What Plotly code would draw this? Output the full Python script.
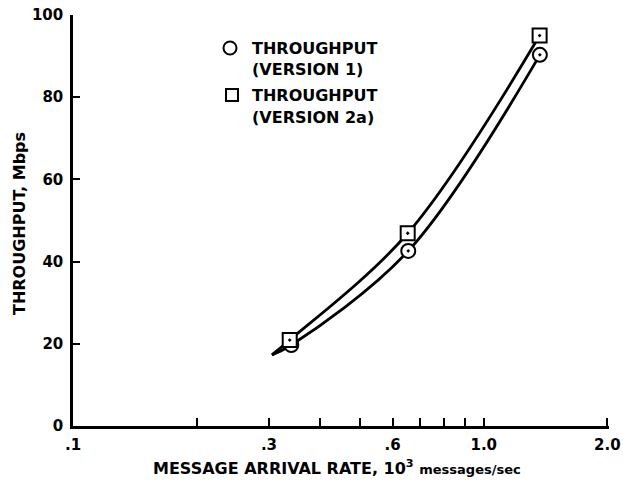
import math
import plotly.graph_objects as go

# Measured throughput (Mbps) vs message arrival rate (10^3 messages/sec)
rate_v1 = [0.34, 0.655, 1.37]
thr_v1 = [19.7, 42.6, 90.3]
rate_v2 = [0.337, 0.653, 1.368]
thr_v2 = [20.9, 46.9, 95.0]

# Lower end of the fitted curves (both curves start from the same point)
fit_start_rate = 0.305
fit_start_thr = 17.3

x_tick_vals = [0.1, 0.2, 0.3, 0.4, 0.5, 0.6, 0.7, 0.8, 0.9, 1.0, 2.0]
x_tick_text = [".1", " ", ".3", " ", " ", ".6", " ", " ", " ", "1.0", "2.0"]
y_tick_vals = [0, 20, 40, 60, 80, 100]

FONT = "DejaVu Sans"
INK = "black"

fig = go.Figure()

# Fitted curves
for rx, ty in ((rate_v1, thr_v1), (rate_v2, thr_v2)):
    fig.add_trace(go.Scatter(
        x=[fit_start_rate] + rx, y=[fit_start_thr] + ty,
        mode="lines", line=dict(color=INK, width=2.8, shape="spline", smoothing=1.0),
        hoverinfo="skip", showlegend=False,
    ))

# Data points
fig.add_trace(go.Scatter(
    x=rate_v1, y=thr_v1, mode="markers", name="THROUGHPUT (VERSION 1)",
    marker=dict(symbol="circle-dot", size=14, color="white",
                line=dict(color=INK, width=2)),
    showlegend=False,
))
fig.add_trace(go.Scatter(
    x=rate_v2, y=thr_v2, mode="markers", name="THROUGHPUT (VERSION 2a)",
    marker=dict(symbol="square-dot", size=14, color="white",
                line=dict(color=INK, width=2)),
    showlegend=False,
))

# Plot area in pixels
L, R, T, B = 73, 14, 15, 56
W, H = 623, 482
pw, ph = W - L - R, H - T - B


def px(x):
    return (x - L) / pw


def py(y):
    return (H - B - y) / ph


shapes = [
    dict(type="circle", xref="paper", yref="paper", xsizemode="pixel", ysizemode="pixel",
         xanchor=px(230), yanchor=py(48), x0=-6.5, x1=6.5, y0=-6.5, y1=6.5,
         line=dict(color=INK, width=2)),
    dict(type="rect", xref="paper", yref="paper", xsizemode="pixel", ysizemode="pixel",
         xanchor=px(232), yanchor=py(95), x0=-6, x1=6, y0=-6, y1=6,
         line=dict(color=INK, width=2)),
]

legend_font = dict(family=FONT, size=16, color=INK, weight="bold")
annotations = []
for text, ypix in (("THROUGHPUT", 48), ("(VERSION 1)", 70),
                   ("THROUGHPUT", 95), ("(VERSION 2a)", 117)):
    annotations.append(dict(
        text=text, xref="paper", yref="paper", x=px(250), y=py(ypix),
        xanchor="left", yanchor="middle", showarrow=False, font=legend_font,
    ))

annotations.append(dict(
    text="THROUGHPUT, Mbps", xref="paper", yref="paper", x=px(20), y=py(224),
    xanchor="center", yanchor="middle", textangle=-90, showarrow=False,
    font=dict(family=FONT, size=16, color=INK, weight="bold"),
))
annotations.append(dict(
    text="MESSAGE ARRIVAL RATE, 10<sup>3</sup> <span style='font-size:13px'>messages/sec</span>",
    xref="paper", yref="paper", x=px(337), y=py(467),
    xanchor="center", yanchor="middle", showarrow=False,
    font=dict(family=FONT, size=16, color=INK, weight="bold"),
))

fig.update_layout(
    width=W, height=H,
    margin=dict(l=L, r=R, t=T, b=B, pad=0, autoexpand=False),
    paper_bgcolor="white", plot_bgcolor="white",
    shapes=shapes, annotations=annotations,
    xaxis=dict(
        type="log", range=[-1, math.log10(2.0) + 0.004],
        tickvals=x_tick_vals, ticktext=x_tick_text,
        ticks="inside", ticklen=8, tickwidth=2, tickcolor=INK,
        showline=True, linecolor=INK, linewidth=2.5,
        showgrid=False, zeroline=False, ticklabelstandoff=3,
        ticklabeloverflow="allow", automargin=False,
        tickfont=dict(family=FONT, size=15, color=INK, weight="bold"),
    ),
    yaxis=dict(
        range=[0, 100], tickvals=y_tick_vals,
        ticks="inside", ticklen=7, tickwidth=2, tickcolor=INK,
        showline=True, linecolor=INK, linewidth=2.5,
        showgrid=False, zeroline=False, ticklabelstandoff=4,
        automargin=False,
        tickfont=dict(family=FONT, size=15, color=INK, weight="bold"),
    ),
)

fig.write_html("out.html")
